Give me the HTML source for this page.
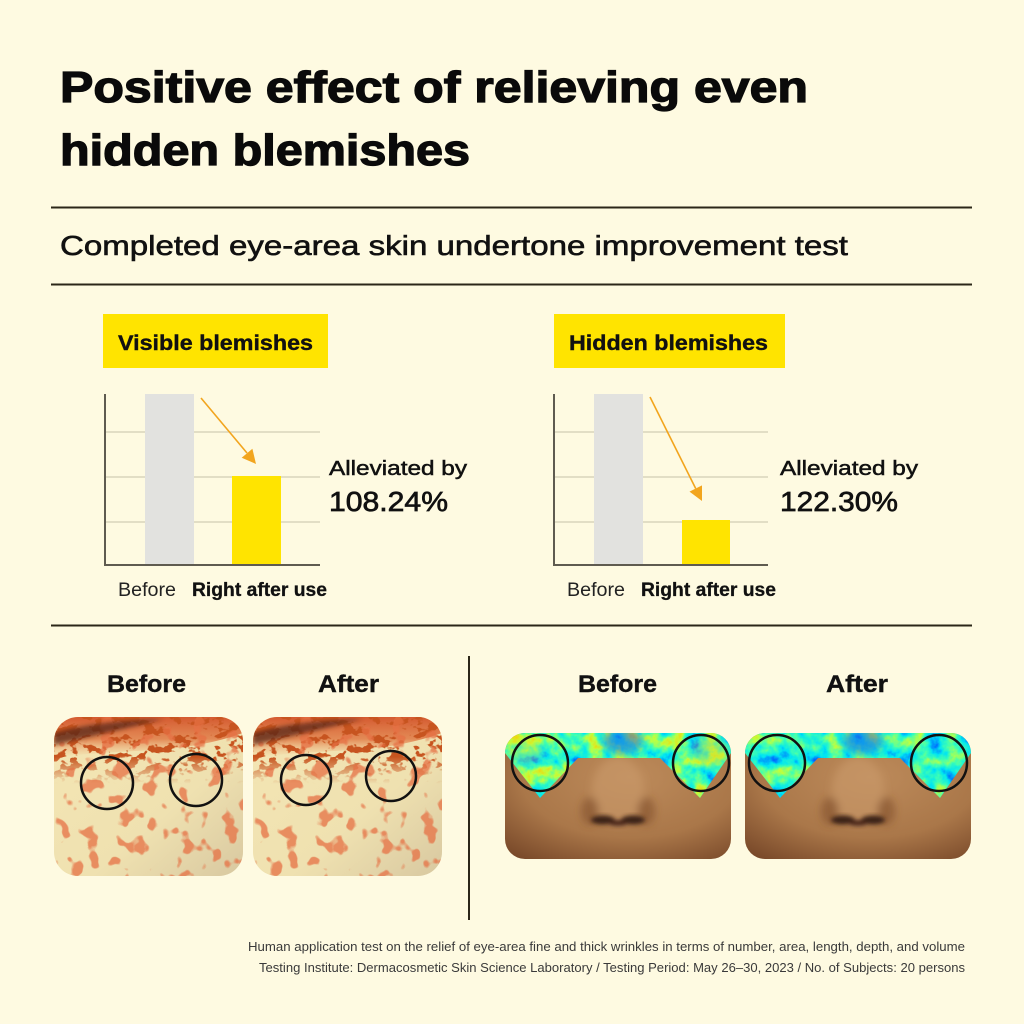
<!DOCTYPE html>
<html><head><meta charset="utf-8"><style>
html,body{margin:0;padding:0;background:#fefae1;}
svg{display:block}
text{font-family:"Liberation Sans",sans-serif;}
</style></head><body>
<svg width="1024" height="1024" viewBox="0 0 1024 1024" xmlns="http://www.w3.org/2000/svg">
<defs>
  <filter id="blur2" x="-30%" y="-30%" width="160%" height="160%"><feGaussianBlur stdDeviation="2"/></filter>
  <filter id="blur4" x="-40%" y="-40%" width="180%" height="180%"><feGaussianBlur stdDeviation="4"/></filter>
  <filter id="blur3" x="-40%" y="-40%" width="180%" height="180%"><feGaussianBlur stdDeviation="3"/></filter>

  <!-- blotch filters -->
  <filter id="fb1" x="0" y="0" width="1" height="1" color-interpolation-filters="sRGB">
    <feTurbulence type="fractalNoise" baseFrequency="0.08 0.11" numOctaves="3" seed="11"/>
    <feColorMatrix type="matrix" values="0 0 0 0 0.78  0 0 0 0 0.33  0 0 0 0 0.12  16 0 0 0 -8.4"/>
  </filter>
  <filter id="fb2" x="0" y="0" width="1" height="1" color-interpolation-filters="sRGB">
    <feTurbulence type="fractalNoise" baseFrequency="0.065" numOctaves="2" seed="4"/>
    <feColorMatrix type="matrix" values="0 0 0 0 0.9  0 0 0 0 0.44  0 0 0 0 0.27  14 0 0 0 -8.3"/>
  </filter>

  <!-- heat filters -->
  <filter id="fh1" x="0" y="0" width="1" height="1" color-interpolation-filters="sRGB">
    <feTurbulence type="fractalNoise" baseFrequency="0.06" numOctaves="4" seed="5" result="n"/>
    <feColorMatrix in="n" type="matrix" values="0.5 0 0 0 0.25  0.5 0 0 0 0.25  0.5 0 0 0 0.25  0 0 0 0 1" result="g"/>
    <feComponentTransfer in="g" result="c">
      <feFuncR type="table" tableValues="0 0 0 0 0 0.25 0.75 1 1 0.8 0.5"/>
      <feFuncG type="table" tableValues="0 0 0.15 0.45 0.9 1 1 0.8 0.3 0 0"/>
      <feFuncB type="table" tableValues="0.6 0.8 1 1 0.95 0.7 0.25 0 0 0 0"/>
    </feComponentTransfer>
    <feComposite in="c" in2="SourceGraphic" operator="in"/>
  </filter>
  <filter id="fh2" x="0" y="0" width="1" height="1" color-interpolation-filters="sRGB">
    <feTurbulence type="fractalNoise" baseFrequency="0.06" numOctaves="4" seed="5" result="n"/>
    <feColorMatrix in="n" type="matrix" values="0.45 0 0 0 0.24  0.45 0 0 0 0.24  0.45 0 0 0 0.24  0 0 0 0 1" result="g"/>
    <feComponentTransfer in="g" result="c">
      <feFuncR type="table" tableValues="0 0 0 0 0 0.25 0.75 1 1 0.8 0.5"/>
      <feFuncG type="table" tableValues="0 0 0.15 0.45 0.9 1 1 0.8 0.3 0 0"/>
      <feFuncB type="table" tableValues="0.6 0.8 1 1 0.95 0.7 0.25 0 0 0 0"/>
    </feComponentTransfer>
    <feComposite in="c" in2="SourceGraphic" operator="in"/>
  </filter>

  <!-- left images -->
  <clipPath id="clipL"><rect width="189" height="159" rx="24"/></clipPath>
  <linearGradient id="creamG" x1="0" y1="0" x2="1" y2="1">
    <stop offset="0" stop-color="#f4e6b4"/>
    <stop offset="0.6" stop-color="#efe1b0"/>
    <stop offset="1" stop-color="#d8c8a0"/>
  </linearGradient>
  <linearGradient id="topBand" x1="0" y1="0" x2="0" y2="1">
    <stop offset="0" stop-color="#d45a30"/>
    <stop offset="0.55" stop-color="#e07a45" stop-opacity="0.85"/>
    <stop offset="1" stop-color="#efb27a" stop-opacity="0"/>
  </linearGradient>
  <linearGradient id="fadeTop" x1="0" y1="0" x2="0" y2="1">
    <stop offset="0" stop-color="#fff"/>
    <stop offset="0.25" stop-color="#fff"/>
    <stop offset="0.42" stop-color="#000"/>
  </linearGradient>
  <mask id="mTop" maskUnits="userSpaceOnUse" x="0" y="0" width="189" height="159">
    <rect width="189" height="159" fill="url(#fadeTop)"/>
  </mask>
  <g id="blem">
    <g clip-path="url(#clipL)">
      <rect width="189" height="159" fill="url(#creamG)"/>
      <path d="M0 0 H189 V16 Q150 30 100 33 Q40 36 0 40 Z" fill="url(#topBand)"/>
      <rect width="189" height="159" fill="#000" filter="url(#fb1)" mask="url(#mTop)"/>
      <rect width="189" height="159" fill="#000" filter="url(#fb2)" opacity="0.75"/>
      <path d="M0 16 Q40 4 110 2 Q70 12 0 28 Z" fill="#4e2418" opacity="0.7" filter="url(#blur2)"/>
    </g>
  </g>

  <!-- right images -->
  <clipPath id="clipR"><rect width="226" height="126" rx="20"/></clipPath>
  <clipPath id="clipHeat"><path d="M0 0 H226 V20 L195 65 L155 25 H73 L35 65 L0 20 Z"/></clipPath>
  <radialGradient id="skinG" cx="0.55" cy="0.35" r="0.8">
    <stop offset="0" stop-color="#bd8b5b"/>
    <stop offset="0.6" stop-color="#aa7749"/>
    <stop offset="1" stop-color="#7a4a2a"/>
  </radialGradient>
  <g id="face">
    <rect width="226" height="126" fill="url(#skinG)"/>
    <g filter="url(#blur4)">
      <ellipse cx="113" cy="58" rx="26" ry="34" fill="#c99a6b" opacity="0.6"/>
      <ellipse cx="85" cy="78" rx="9" ry="14" fill="#7d4c2c" opacity="0.55"/>
      <ellipse cx="141" cy="78" rx="9" ry="14" fill="#7d4c2c" opacity="0.55"/>
    </g>
    <g filter="url(#blur2)">
      <ellipse cx="98" cy="87" rx="12" ry="4.5" fill="#3b2015"/>
      <ellipse cx="128" cy="87" rx="12" ry="4.5" fill="#3b2015"/>
      <ellipse cx="113" cy="90" rx="10" ry="3" fill="#4a281a"/>
    </g>
  </g>
</defs>

<rect width="1024" height="1024" fill="#fefae1"/>

<!-- Title -->
<text x="60" y="102" font-size="44" font-weight="bold" fill="#0a0a0a" stroke="#0a0a0a" stroke-width="1.3" textLength="748" lengthAdjust="spacingAndGlyphs">Positive effect of relieving even</text>
<text x="60" y="165" font-size="44" font-weight="bold" fill="#0a0a0a" stroke="#0a0a0a" stroke-width="1.3" textLength="410" lengthAdjust="spacingAndGlyphs">hidden blemishes</text>

<line x1="51" y1="207.5" x2="972" y2="207.5" stroke="#2b2618" stroke-width="2"/>
<text x="60" y="255" font-size="28" fill="#111" stroke="#111" stroke-width="0.6" textLength="788" lengthAdjust="spacingAndGlyphs">Completed eye-area skin undertone improvement test</text>
<line x1="51" y1="284.5" x2="972" y2="284.5" stroke="#2b2618" stroke-width="2"/>

<!-- Chart 1 -->
<rect x="103" y="314" width="225" height="54" fill="#ffe400"/>
<text x="118" y="350" font-size="21.5" font-weight="bold" fill="#111" stroke="#111" stroke-width="0.4" textLength="195" lengthAdjust="spacingAndGlyphs">Visible blemishes</text>
<g stroke="#d9d4bc" stroke-width="1.5">
  <line x1="106" y1="432" x2="320" y2="432"/>
  <line x1="106" y1="477" x2="320" y2="477"/>
  <line x1="106" y1="522" x2="320" y2="522"/>
</g>
<rect x="145" y="394" width="49" height="171" fill="#e2e2df"/>
<rect x="232" y="476" width="49" height="89" fill="#ffe400"/>
<polyline points="105,394 105,565 320,565" fill="none" stroke="#5f5b50" stroke-width="2"/>
<line x1="201" y1="398" x2="247" y2="453" stroke="#f2a51e" stroke-width="1.6"/>
<polygon points="256,464 241.7,457.7 252.4,448.7" fill="#f2a51e"/>
<text x="118" y="596" font-size="19" fill="#222" textLength="58" lengthAdjust="spacingAndGlyphs">Before</text>
<text x="192" y="596" font-size="19" font-weight="bold" fill="#111" stroke="#111" stroke-width="0.3" textLength="135" lengthAdjust="spacingAndGlyphs">Right after use</text>
<text x="329" y="475" font-size="20" fill="#111" stroke="#111" stroke-width="0.5" textLength="138" lengthAdjust="spacingAndGlyphs">Alleviated by</text>
<text x="329" y="511" font-size="28" fill="#111" stroke="#111" stroke-width="0.7" textLength="119" lengthAdjust="spacingAndGlyphs">108.24%</text>

<!-- Chart 2 -->
<rect x="554" y="314" width="231" height="54" fill="#ffe400"/>
<text x="569" y="350" font-size="21.5" font-weight="bold" fill="#111" stroke="#111" stroke-width="0.4" textLength="199" lengthAdjust="spacingAndGlyphs">Hidden blemishes</text>
<g stroke="#d9d4bc" stroke-width="1.5">
  <line x1="555" y1="432" x2="768" y2="432"/>
  <line x1="555" y1="477" x2="768" y2="477"/>
  <line x1="555" y1="522" x2="768" y2="522"/>
</g>
<rect x="594" y="394" width="49" height="171" fill="#e2e2df"/>
<rect x="682" y="520" width="48" height="45" fill="#ffe400"/>
<polyline points="554,394 554,565 768,565" fill="none" stroke="#5f5b50" stroke-width="2"/>
<line x1="650" y1="397" x2="695.7" y2="488.5" stroke="#f2a51e" stroke-width="1.6"/>
<polygon points="702,501 689.5,491.6 702,485.4" fill="#f2a51e"/>
<text x="567" y="596" font-size="19" fill="#222" textLength="58" lengthAdjust="spacingAndGlyphs">Before</text>
<text x="641" y="596" font-size="19" font-weight="bold" fill="#111" stroke="#111" stroke-width="0.3" textLength="135" lengthAdjust="spacingAndGlyphs">Right after use</text>
<text x="780" y="475" font-size="20" fill="#111" stroke="#111" stroke-width="0.5" textLength="138" lengthAdjust="spacingAndGlyphs">Alleviated by</text>
<text x="780" y="511" font-size="28" fill="#111" stroke="#111" stroke-width="0.7" textLength="118" lengthAdjust="spacingAndGlyphs">122.30%</text>

<line x1="51" y1="625.5" x2="972" y2="625.5" stroke="#2b2618" stroke-width="2"/>
<line x1="469" y1="656" x2="469" y2="920" stroke="#2b2618" stroke-width="2"/>

<!-- Bottom headers -->
<text x="107" y="692" font-size="24" font-weight="bold" fill="#111" stroke="#111" stroke-width="0.4" textLength="79" lengthAdjust="spacingAndGlyphs">Before</text>
<text x="318" y="692" font-size="24" font-weight="bold" fill="#111" stroke="#111" stroke-width="0.4" textLength="61" lengthAdjust="spacingAndGlyphs">After</text>
<text x="578" y="692" font-size="24" font-weight="bold" fill="#111" stroke="#111" stroke-width="0.4" textLength="79" lengthAdjust="spacingAndGlyphs">Before</text>
<text x="826" y="692" font-size="24" font-weight="bold" fill="#111" stroke="#111" stroke-width="0.4" textLength="62" lengthAdjust="spacingAndGlyphs">After</text>

<!-- Left images -->
<g transform="translate(54,717)">
  <use href="#blem"/>
  <circle cx="53" cy="66" r="26" fill="none" stroke="#111" stroke-width="2.5"/>
  <circle cx="142" cy="63" r="26" fill="none" stroke="#111" stroke-width="2.5"/>
</g>
<g transform="translate(253,717)">
  <use href="#blem"/>
  <circle cx="53" cy="63" r="25" fill="none" stroke="#111" stroke-width="2.5"/>
  <circle cx="138" cy="59" r="25" fill="none" stroke="#111" stroke-width="2.5"/>
</g>

<!-- Right images -->
<g transform="translate(505,733)">
  <g clip-path="url(#clipR)">
    <use href="#face"/>
    <path d="M0 0 H226 V20 L195 65 L155 25 H73 L35 65 L0 20 Z" fill="#000" filter="url(#fh1)"/>
    <g clip-path="url(#clipHeat)">
      <ellipse cx="118" cy="8" rx="20" ry="13" fill="#1d4fe6" opacity="0.5" filter="url(#blur4)"/>
      <ellipse cx="20" cy="18" rx="18" ry="14" fill="#e8e020" opacity="0.3" filter="url(#blur4)"/>
      <ellipse cx="205" cy="18" rx="18" ry="14" fill="#e8c020" opacity="0.3" filter="url(#blur4)"/>
    </g>
    <circle cx="35" cy="30" r="28" fill="none" stroke="#111" stroke-width="2.5"/>
    <circle cx="196" cy="30" r="28" fill="none" stroke="#111" stroke-width="2.5"/>
  </g>
</g>
<g transform="translate(745,733)">
  <g clip-path="url(#clipR)">
    <use href="#face"/>
    <path d="M0 0 H226 V20 L195 65 L155 25 H73 L35 65 L0 20 Z" fill="#000" filter="url(#fh2)"/>
    <g clip-path="url(#clipHeat)">
      <ellipse cx="118" cy="8" rx="20" ry="13" fill="#1d4fe6" opacity="0.5" filter="url(#blur4)"/>
    </g>
    <circle cx="32" cy="30" r="28" fill="none" stroke="#111" stroke-width="2.5"/>
    <circle cx="194" cy="30" r="28" fill="none" stroke="#111" stroke-width="2.5"/>
  </g>
</g>

<!-- Footnote -->
<text x="965" y="951" font-size="12.5" fill="#3a3a3a" text-anchor="end" textLength="717" lengthAdjust="spacingAndGlyphs">Human application test on the relief of eye-area fine and thick wrinkles in terms of number, area, length, depth, and volume</text>
<text x="965" y="972" font-size="12.5" fill="#3a3a3a" text-anchor="end" textLength="706" lengthAdjust="spacingAndGlyphs">Testing Institute: Dermacosmetic Skin Science Laboratory / Testing Period: May 26–30, 2023 / No. of Subjects: 20 persons</text>
</svg>
</body></html>
